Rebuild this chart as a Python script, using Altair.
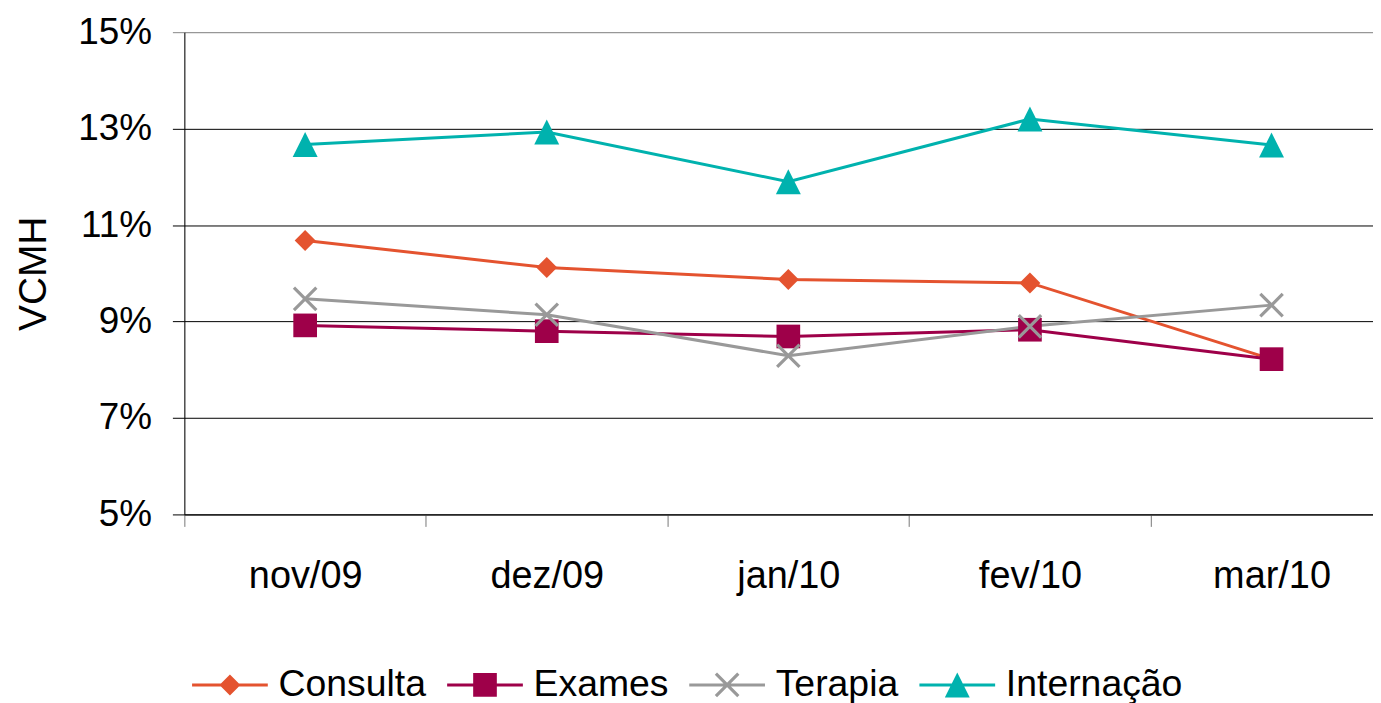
import altair as alt
import pandas as pd

months = ["nov/09", "dez/09", "jan/10", "fev/10", "mar/10"]
series = ["Consulta", "Exames", "Terapia", "Internação"]
consulta = [10.68, 10.12, 9.87, 9.80, 8.22]
exames = [8.92, 8.80, 8.69, 8.83, 8.22]
terapia = [9.47, 9.14, 8.29, 8.90, 9.34]
internacao = [12.67, 12.93, 11.90, 13.20, 12.66]
colors = ["#E4532F", "#9E0049", "#999999", "#00B2AE"]
y_ticks = [5, 7, 9, 11, 13, 15]

rows = []
for s, vals in zip(series, [consulta, exames, terapia, internacao]):
    for i, (m, v) in enumerate(zip(months, vals)):
        rows.append({"serie": s, "mes": m, "idx": i, "valor": v})
df = pd.DataFrame(rows)

# marker shapes (filled paths, unit box -1..1)
diamond = "M0,-0.84L0.84,0L0,0.84L-0.84,0Z"
square = "M-0.95,-0.95H0.95V0.95H-0.95Z"
triangle = "M0,-1L1,1L-1,1Z"
xmark = ("M-0.81,-0.99L0.99,0.81L0.81,0.99L-0.99,-0.81Z"
         "M-0.99,0.81L0.81,-0.99L0.99,-0.81L-0.81,0.99Z")
marker_paths = [diamond, square, xmark, triangle]
legline = "M-3.04,-0.12H3.04V0.12H-3.04Z"
legend_paths = [legline + p for p in marker_paths]

FONT = "Liberation Sans"
label_expr = "[" + ",".join("'%s'" % m for m in months) + "][datum.value]"
tick_vals = [i - 0.5 for i in range(len(months))]

xscale = alt.Scale(domain=[-0.5, len(months) - 0.58], nice=False, zero=False)
yscale = alt.Scale(domain=[5, 15], nice=False, zero=False)

y_axis = alt.Axis(
    values=y_ticks, labelExpr="datum.value + '%'", title="VCMH",
    titleFont=FONT, titleFontSize=39, titleFontWeight="normal", titleColor="black",
    titlePadding=24, labelFont=FONT, labelFontSize=37, labelColor="black",
    labelPadding=21, tickSize=12, tickWidth=1,
    tickColor={"condition": {"test": "datum.value === 15", "value": "#888888"}, "value": "black"},
    gridColor={"condition": {"test": "datum.value === 15", "value": "#888888"}, "value": "black"},
    grid=True, gridWidth=1, domainColor="black", domainWidth=1,
)

lines = alt.Chart(df).mark_line(strokeWidth=3).encode(
    x=alt.X("idx:Q", scale=xscale,
            axis=alt.Axis(values=tick_vals, labels=False, tickSize=12, tickColor="#777777",
                          tickWidth=1, domainColor="black", grid=False, title=None)),
    y=alt.Y("valor:Q", scale=yscale, axis=y_axis),
    color=alt.Color("serie:N", scale=alt.Scale(domain=series, range=colors), legend=None),
    detail="serie:N",
)

points = alt.Chart(df).mark_point(filled=True, size=625, opacity=1, strokeWidth=0).encode(
    x=alt.X("idx:Q", scale=xscale,
            axis=alt.Axis(values=list(range(len(months))), labelExpr=label_expr, ticks=False,
                          tickSize=0, domain=False, grid=False, title=None, orient="bottom",
                          labelFont=FONT, labelFontSize=38, labelColor="black", labelPadding=43)),
    y=alt.Y("valor:Q", scale=yscale, axis=y_axis),
    color=alt.Color("serie:N", scale=alt.Scale(domain=series, range=colors), legend=None),
    shape=alt.Shape("serie:N", scale=alt.Scale(domain=series, range=marker_paths), legend=None),
)

leg = dict(title=None, orient="none", legendX=0, legendY=636,
           direction="horizontal", columns=4, symbolSize=625,
           symbolStrokeWidth=0, symbolOffset=27, labelOffset=30,
           columnPadding=13, labelFont=FONT, labelFontSize=37.5,
           labelColor="black", labelLimit=400, padding=0)

legend_layer = alt.Chart(df).transform_filter("datum.valor < 0").mark_point(
    filled=True, size=625, opacity=1, strokeWidth=0
).encode(
    color=alt.Color("serie:N", scale=alt.Scale(domain=series, range=colors),
                    legend=alt.Legend(**leg)),
    shape=alt.Shape("serie:N", scale=alt.Scale(domain=series, range=legend_paths),
                    legend=alt.Legend(**leg)),
)

chart = alt.layer(lines, points, legend_layer).resolve_scale(
    color="independent", shape="independent"
).resolve_axis(x="independent").properties(
    width=1193, height=484,
    autosize=alt.AutoSizeParams(type="none"),
    padding={"left": 177, "top": 23, "right": 0, "bottom": 190},
).configure_view(stroke=None).configure(background="white")

chart.save("out.html", embed_options={"renderer": "svg", "actions": False})
